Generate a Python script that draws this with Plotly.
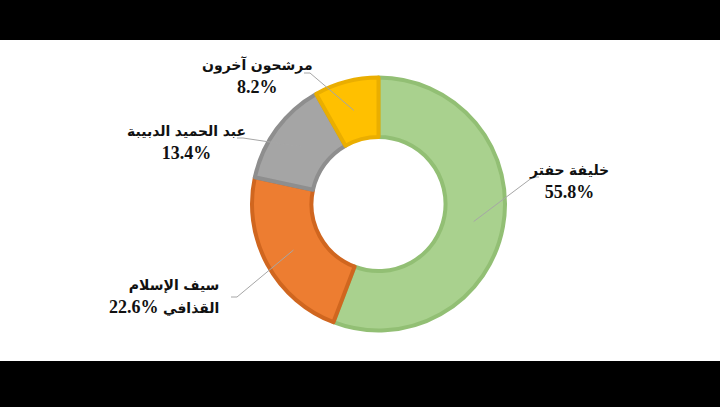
import math
import plotly.graph_objects as go

# ---- data ----
names = ["خليفة حفتر", "سيف الإسلام القذافي", "عبد الحميد الدبيبة", "مرشحون آخرون"]
label_lines = [["خليفة حفتر", "{v}"],
               ["سيف الإسلام", "\u200E{v}\u200E القذافي"],
               ["عبد الحميد الدبيبة", "{v}"],
               ["مرشحون آخرون", "{v}"]]
values = [55.8, 22.6, 13.4, 8.2]

# ---- style ----
W, H = 720, 407
fills = ["#A9D18E", "#ED7D31", "#A5A5A5", "#FFC000"]
borders = ["#92BF74", "#D0661F", "#8E8E8E", "#EAAE00"]
cx, cy, R = 378.5, 204.0, 126.5
hole = 0.53
# label anchor (px), anchor side, leader start (px)
label_pos = [(569, 180, "center"), (221, 295, "right"), (186, 141, "center"), (257, 75, "center")]
leader_start = [(533, 177), (237, 297), (243, 138), (310, 73)]
elbow = 6
AR_SIZE = 14
NUM_SIZE = 18


def px(x):
    return x / W


def py(y):
    return 1 - y / H


def is_arabic(s):
    return any("\u0600" <= ch <= "\u06FF" for ch in s)


def style_line(s):
    if is_arabic(s):
        out = ""
        for part in s.split(" "):
            sz = AR_SIZE if is_arabic(part) else NUM_SIZE
            out += f"<span style='font-size:{sz}px'>{part}</span> "
        return out.rstrip()
    return f"<span style='font-size:{NUM_SIZE}px'>{s}</span>"


fig = go.Figure(go.Pie(
    labels=names, values=values, sort=False, direction="clockwise", rotation=0,
    hole=hole, textinfo="none", hoverinfo="skip", showlegend=False,
    marker=dict(colors=fills, line=dict(color=borders, width=4)),
    domain=dict(x=[px(cx - R), px(cx + R)], y=[py(cy + R), py(cy - R)]),
))

shapes = []
annotations = []
total = sum(values)
cum = 0.0
r_mid = (R * hole + R) / 2
for i, v in enumerate(values):
    mid = (cum + v / 2) / total * 2 * math.pi
    cum += v
    ex = cx + r_mid * math.sin(mid)
    ey = cy - r_mid * math.cos(mid)
    sx, sy = leader_start[i]
    dirx = 1 if ex > sx else -1
    path = f"M {px(sx - dirx*elbow)},{py(sy)} L {px(sx)},{py(sy)} L {px(ex)},{py(ey)}"
    shapes.append(dict(type="path", xref="paper", yref="paper", path=path,
                       line=dict(color="#A6A6A6", width=1), layer="above"))
    lines = [l.format(v=f"{v:.1f}%") for l in label_lines[i]]
    txt = "<br>".join(style_line(l) for l in lines)
    lx, ly, anch = label_pos[i]
    annotations.append(dict(x=px(lx), y=py(ly), xref="paper", yref="paper",
                            text=f"<b>{txt}</b>", showarrow=False,
                            xanchor=anch, yanchor="middle", align=anch,
                            font=dict(family="Liberation Serif, DejaVu Sans", size=NUM_SIZE, color="#111111")))

# black letterbox bars
shapes.append(dict(type="rect", xref="paper", yref="paper", x0=0, x1=1, y0=py(40), y1=1,
                   fillcolor="black", line=dict(width=0), layer="above"))
shapes.append(dict(type="rect", xref="paper", yref="paper", x0=0, x1=1, y0=0, y1=py(361),
                   fillcolor="black", line=dict(width=0), layer="above"))

fig.update_layout(width=W, height=H, margin=dict(l=0, r=0, t=0, b=0),
                  paper_bgcolor="white", plot_bgcolor="white",
                  shapes=shapes, annotations=annotations)
fig.write_html("out.html", config={"displayModeBar": False, "staticPlot": True},
               post_script="document.body.style.margin='0';document.body.style.overflow='hidden';")
